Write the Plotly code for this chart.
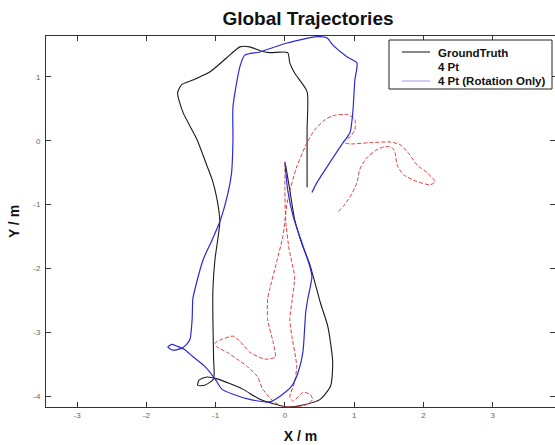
import plotly.graph_objects as go

# ---- data (metres) ----
gt_x = [0.01, 0.07, 0.14, 0.25, 0.36, 0.51, 0.62, 0.69, 0.66, 0.51, 0.26, 0.03, -0.36, -0.61, -0.98, -1.13,
        -1.24, -1.26, -1.16, -1.03, -1.03, -1.04, -1.04, -1.01, -0.97, -0.94, -0.98, -1.05, -1.13, -1.27,
        -1.47, -1.55, -1.49, -1.33, -1.08, -0.84, -0.65, -0.51, -0.36, -0.22, 0.04, 0.07, 0.14, 0.32, 0.32, 0.32]
gt_y = [-0.38, -0.77, -1.23, -1.63, -1.94, -2.53, -2.91, -3.47, -3.84, -4.05, -4.14, -4.17, -4.05, -3.89, -3.73, -3.70,
        -3.75, -3.83, -3.83, -3.73, -3.42, -2.80, -2.33, -1.86, -1.55, -1.27, -0.92, -0.61, -0.38, 0.02,
        0.44, 0.75, 0.88, 0.95, 1.08, 1.30, 1.47, 1.47, 1.41, 1.38, 1.38, 1.22, 1.06, 0.77, 0.17, -0.73]

rot_x = [0.00, 0.04, 0.12, 0.23, 0.36, 0.39, 0.33, 0.30, 0.26, 0.19, 0.10, -0.07, -0.22, -0.51, -0.75, -0.91,
         -1.01, -1.16, -1.33, -1.45, -1.55, -1.63, -1.69, -1.62, -1.49, -1.42, -1.37, -1.34, -1.33, -1.30,
         -1.18, -1.05, -0.94, -0.82, -0.77, -0.75, -0.75, -0.65, -0.58, -0.36, 0.03, 0.46, 0.61, 0.69, 0.90,
         1.04, 1.01, 0.98, 0.94, 0.82, 0.65, 0.46, 0.39]
rot_y = [-0.33, -0.77, -1.19, -1.55, -1.97, -2.13, -2.48, -2.69, -3.31, -3.63, -3.84, -4.00, -4.09, -4.05, -3.97, -3.89,
         -3.73, -3.53, -3.38, -3.27, -3.22, -3.19, -3.23, -3.28, -3.25, -3.19, -3.11, -2.80, -2.48, -2.33,
         -1.86, -1.55, -1.27, -0.81, -0.50, 0.02, 0.53, 1.16, 1.34, 1.39, 1.53, 1.63, 1.61, 1.50, 1.31,
         1.22, 0.95, 0.44, 0.13, -0.06, -0.34, -0.66, -0.81]

pt4_x = [0.00, 0.00, 0.01, 0.06, 0.14, 0.10, 0.07, 0.10, 0.17, 0.14, 0.07, 0.12, 0.26, 0.36, 0.40, 0.32, 0.14,
         -0.03, -0.17, -0.32, -0.40, -0.55, -0.69, -0.84, -0.98, -1.01, -0.91, -0.75, -0.65, -0.51, -0.29, -0.14,
         -0.17, -0.25, -0.25, -0.22, -0.13, -0.03, 0.04, 0.17, 0.32, 0.43, 0.58, 0.69, 0.91, 1.01, 1.01, 0.94,
         0.84, 0.94, 1.23, 1.52, 1.66, 1.78, 1.91, 2.05, 2.17, 2.10, 1.91, 1.71, 1.62, 1.59, 1.55, 1.45, 1.33,
         1.18, 1.08, 1.04, 0.94, 0.84, 0.77]
pt4_y = [-0.34, -0.77, -1.23, -1.70, -2.13, -2.53, -2.80, -3.06, -3.53, -3.78, -4.02, -4.08, -3.94, -3.97, -4.05, -4.13, -4.17,
         -4.16, -4.08, -3.89, -3.69, -3.53, -3.42, -3.31, -3.23, -3.17, -3.11, -3.06, -3.14, -3.31, -3.42, -3.39,
         -3.16, -2.80, -2.48, -2.33, -1.94, -1.50, -0.92, -0.41, -0.03, 0.17, 0.33, 0.39, 0.41, 0.33, 0.17, 0.06,
         -0.02, -0.05, -0.03, -0.02, -0.06, -0.19, -0.38, -0.50, -0.64, -0.69, -0.64, -0.53, -0.38, -0.19, -0.11, -0.09, -0.14,
         -0.27, -0.45, -0.66, -0.88, -1.03, -1.11]

x_ticks = [-3, -2, -1, 0, 1, 2, 3]
y_ticks = [-4, -3, -2, -1, 0, 1]

FONT = "Liberation Sans, Arial, sans-serif"

fig = go.Figure()
fig.add_trace(go.Scatter(x=gt_x, y=gt_y, mode="lines", name="GroundTruth",
                         line=dict(color="#1a1a1a", width=1.1, shape="spline", smoothing=0.6), showlegend=False))
fig.add_trace(go.Scatter(x=pt4_x, y=pt4_y, mode="lines", name="4 Pt",
                         line=dict(color="#e24040", width=1.0, dash="4px,2px", shape="spline", smoothing=0.6), showlegend=False))
fig.add_trace(go.Scatter(x=rot_x, y=rot_y, mode="lines", name="4 Pt (Rotation Only)",
                         line=dict(color="#2a2ad6", width=1.2, shape="spline", smoothing=0.6), showlegend=False))

W, H = 555, 445
ml, mr, mt, mb = 46, 0, 36, 38
pw, ph = W - ml - mr, H - mt - mb

def px(xp):
    return (xp - ml) / pw

def py(yp):
    return (H - mb - yp) / ph

shapes = [
    dict(type="rect", xref="paper", yref="paper", x0=px(389), x1=px(552), y0=py(89), y1=py(40),
         line=dict(color="#222222", width=1), fillcolor="white", layer="above"),
    dict(type="line", xref="paper", yref="paper", x0=px(402), x1=px(430), y0=py(52), y1=py(52),
         line=dict(color="#111111", width=1), layer="above"),
    dict(type="line", xref="paper", yref="paper", x0=px(402), x1=px(430), y0=py(81), y1=py(81),
         line=dict(color="#9a9aee", width=1), layer="above"),
]
legend_items = [("GroundTruth", 53), ("4 Pt", 67), ("4 Pt (Rotation Only)", 81)]
annotations = [
    dict(text=t, xref="paper", yref="paper", x=px(436), y=py(yy), xanchor="left", yanchor="middle",
         showarrow=False, font=dict(family=FONT, size=11.5, color="#111111", weight="bold"))
    for t, yy in legend_items
]

fig.update_layout(
    width=W, height=H,
    margin=dict(l=ml, r=mr, t=mt, b=mb),
    paper_bgcolor="white", plot_bgcolor="white",
    title=dict(text="Global Trajectories", x=px(308), xref="paper", y=1 - 18 / H, yanchor="middle",
               xanchor="center", font=dict(family=FONT, size=19, color="#111111", weight="bold")),
    xaxis=dict(range=[-3.45, 3.9], tickvals=x_ticks, ticktext=[str(v) for v in x_ticks],
               ticks="inside", ticklen=5, tickcolor="#333333", showline=True, linecolor="#333333",
               linewidth=1, mirror="ticks", showgrid=False, zeroline=False,
               tickfont=dict(family=FONT, size=8, color="#666666"),
               title=dict(text="X / m", standoff=12, font=dict(family=FONT, size=14, color="#111111", weight="bold"))),
    yaxis=dict(range=[-4.17, 1.64], tickvals=y_ticks, ticktext=[str(v) for v in y_ticks],
               ticks="inside", ticklen=5, tickcolor="#333333", showline=True, linecolor="#333333",
               linewidth=1, mirror="ticks", showgrid=False, zeroline=False, ticklabelstandoff=3,
               tickfont=dict(family=FONT, size=8, color="#666666"),
               title=dict(text="Y / m", standoff=10, font=dict(family=FONT, size=14, color="#111111", weight="bold"))),
    shapes=shapes, annotations=annotations,
)

fig.write_html("out.html")
